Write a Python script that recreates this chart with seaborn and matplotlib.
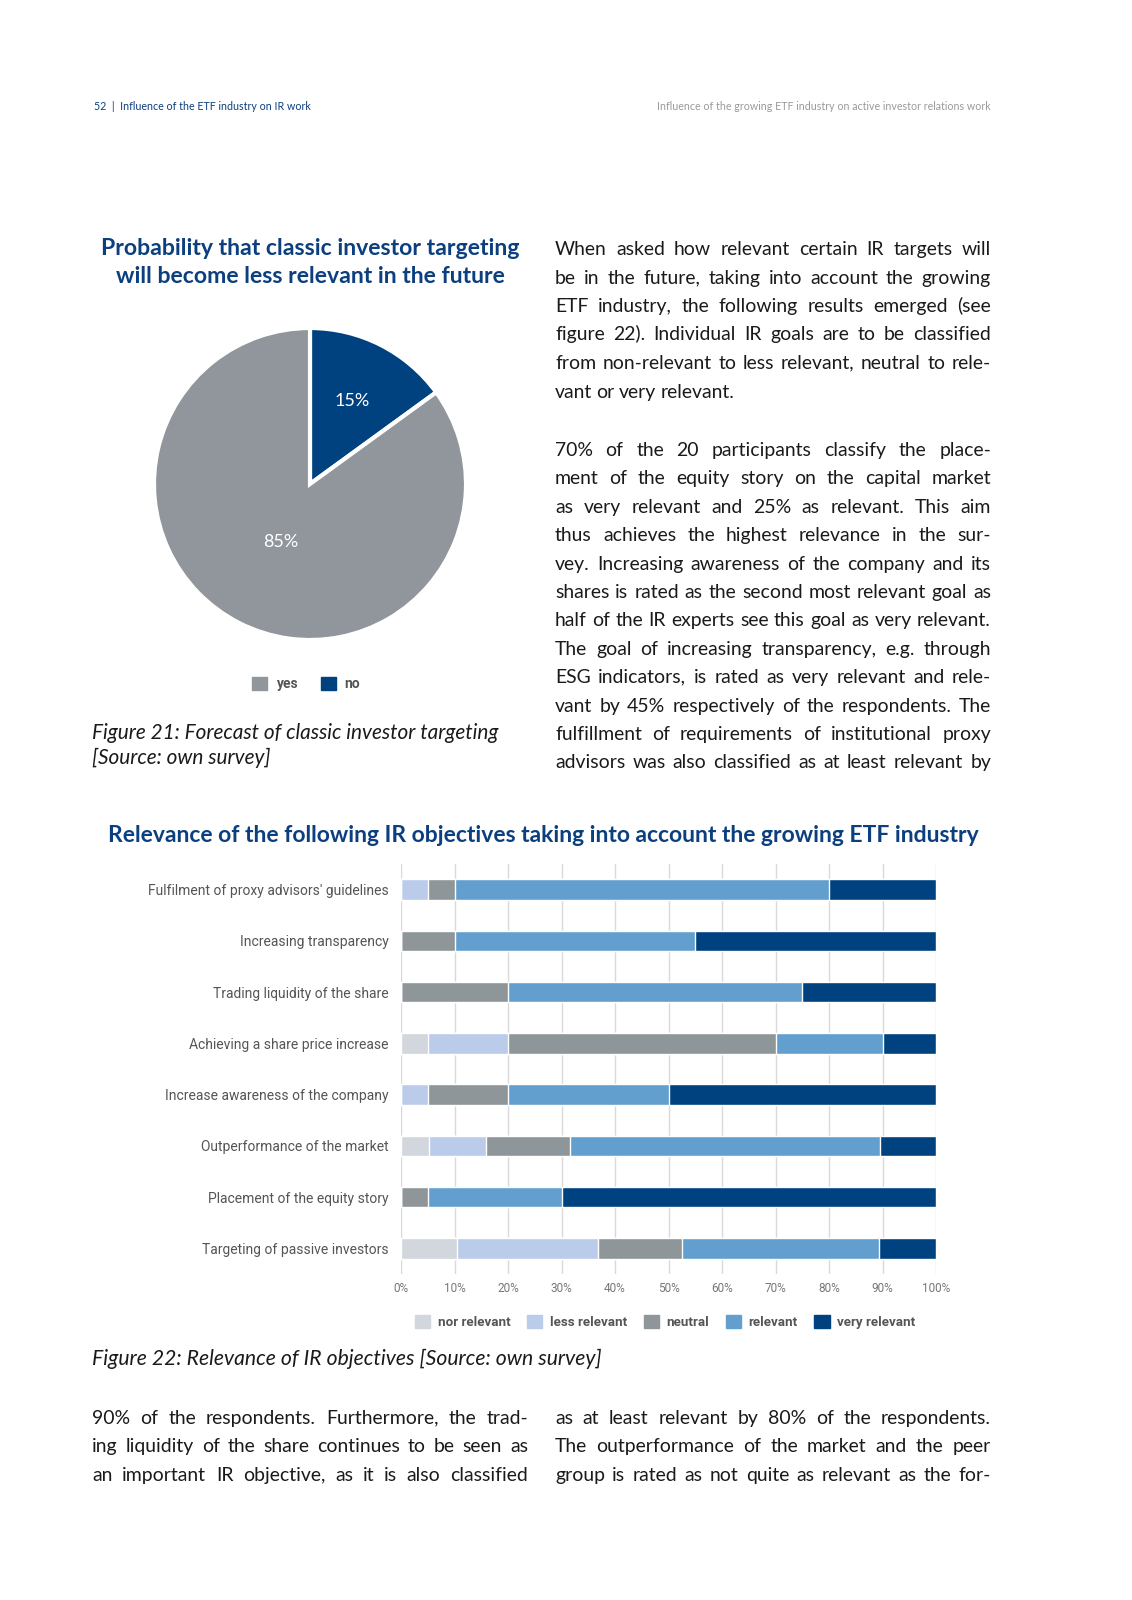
import matplotlib
matplotlib.use("Agg")
import numpy as np
import pandas as pd
import seaborn as sns
import matplotlib.pyplot as plt
from matplotlib.patches import Patch
from matplotlib.backends.backend_agg import get_hinting_flag

W, H = 1132, 1600

# pie chart data (figure 21)
pie_labels = ["no", "yes"]
pie_shares = [15, 85]

# stacked bar data (figure 22), share of respondents in %
objectives = [
    "Fulfilment of proxy advisors' guidelines",
    "Increasing transparency",
    "Trading liquidity of the share",
    "Achieving a share price increase",
    "Increase awareness of the company",
    "Outperformance of the market",
    "Placement of the equity story",
    "Targeting of passive investors",
]
levels = ["nor relevant", "less relevant", "neutral", "relevant", "very relevant"]
nor_relevant = [0, 0, 0, 5, 0, 5.3, 0, 10.5]
less_relevant = [5, 0, 0, 15, 5, 10.5, 0, 26.3]
neutral = [5, 10, 20, 50, 15, 15.8, 5, 15.8]
relevant = [70, 45, 55, 20, 30, 57.9, 25, 36.8]
very_relevant = [20, 45, 25, 10, 50, 10.5, 70, 10.6]
x_ticks = [0, 10, 20, 30, 40, 50, 60, 70, 80, 90, 100]
tick_labels = [f"{t}%" for t in x_ticks]

# page text
header_left = "52  |  Influence of the ETF industry on IR work"
header_right = "Influence of the growing ETF industry on active investor relations work"
pie_title = ["Probability that classic investor targeting",
             "will become less relevant in the future"]
caption21 = ["Figure 21: Forecast of classic investor targeting",
             "[Source: own survey]"]
bar_title = "Relevance of the following IR objectives taking into account the growing ETF industry"
caption22 = "Figure 22: Relevance of IR objectives [Source: own survey]"
para1 = [
    "When asked how relevant certain IR targets will",
    "be in the future, taking into account the growing",
    "ETF industry, the following results emerged (see",
    "figure 22). Individual IR goals are to be classified",
    "from non-relevant to less relevant, neutral to rele-",
    "vant or very relevant.",
]
para2 = [
    "70% of the 20 participants classify the place-",
    "ment of the equity story on the capital market",
    "as very relevant and 25% as relevant. This aim",
    "thus achieves the highest relevance in the sur-",
    "vey. Increasing awareness of the company and its",
    "shares is rated as the second most relevant goal as",
    "half of the IR experts see this goal as very relevant.",
    "The goal of increasing transparency, e.g. through",
    "ESG indicators, is rated as very relevant and rele-",
    "vant by 45% respectively of the respondents. The",
    "fulfillment of requirements of institutional proxy",
    "advisors was also classified as at least relevant by",
]
bottom_left = [
    "90% of the respondents. Furthermore, the trad-",
    "ing liquidity of the share continues to be seen as",
    "an important IR objective, as it is also classified",
]
bottom_right = [
    "as at least relevant by 80% of the respondents.",
    "The outperformance of the market and the peer",
    "group is rated as not quite as relevant as the for-",
]

BLUE = "#0b3f7f"
level_colors = ["#d2d6dd", "#baccea", "#8f9699", "#629fce", "#00427f"]
pie_colors = ["#00427f", "#90969b"]
NARROW = ["Liberation Sans Narrow", "Roboto", "DejaVu Sans"]

sns.set_theme(style="white")
plt.rcParams["font.family"] = ["Lato", "DejaVu Sans"]

fig = plt.figure(figsize=(W / 100, H / 100), dpi=100)
rend = fig.canvas.get_renderer()


def fx(x):
    return x / W


def fy(y):
    return 1 - y / H


def put(x, y, s, width=None, **kw):
    t = fig.text(fx(x), fy(y), s, va="baseline", **kw)
    if width:
        w = t.get_window_extent(rend).width
        t.set_fontsize(t.get_fontsize() * width / w)
    return t


def raster_shift(t):
    # Agg rounds each word bitmap on its own; work out how far off the baseline lands
    try:
        font = rend._prepare_font(t.get_fontproperties())
        font.set_text(t.get_text(), 0, flags=get_hinting_flag())
        d = font.get_descent() / 64
        h = font.get_width_height()[1] / 64
        return round(d) + np.floor(h - d) - np.floor(h)
    except Exception:
        return 0


def justify(lines, x0, x1, y0, dy, ragged_last=False, **kw):
    for i, line in enumerate(lines):
        y = round(y0 + i * dy)
        words = line.split()
        ts = [put(x0, y, w, **kw) for w in words]
        ws = [t.get_window_extent(rend).width for t in ts]
        if ragged_last and i == len(lines) - 1:
            gap = ts[0].get_window_extent(rend).height * 0.25
        else:
            gap = (x1 - x0 - sum(ws)) / (len(words) - 1)
        x = x0
        for t, w in zip(ts, ws):
            t.set_position((fx(x), fy(y - raster_shift(t))))
            x += w + gap


# body font size: largest size where the tightest line still fits the column
body_fs = 14
probe = fig.text(0, 0, "", fontsize=body_fs)
widest = 0
for line in para1 + para2 + bottom_left + bottom_right:
    probe.set_text(line)
    widest = max(widest, probe.get_window_extent(rend).width)
probe.remove()
body_fs = min(body_fs, body_fs * 434 / widest)
body = dict(fontsize=body_fs, color="#1a1a1a")

# header
put(94, 110, header_left, width=215, fontsize=8, color=BLUE)
put(991, 110, header_right, width=335, fontsize=8, color="#9a9a9a", ha="right")

# pie title
t = put(310, 255, pie_title[0], width=420, fontsize=16, fontweight="bold", color=BLUE, ha="center")
put(310, 283, pie_title[1], fontsize=t.get_fontsize(), fontweight="bold", color=BLUE, ha="center")

# pie chart
ax_pie = fig.add_axes([fx(154), fy(640), 312 / W, 312 / H])
wedges, _ = ax_pie.pie(pie_shares, colors=pie_colors, startangle=90, counterclock=False,
                       wedgeprops=dict(edgecolor="white", linewidth=3))
for wdg, share, rr in zip(wedges, pie_shares, [0.60, 0.42]):
    ang = np.deg2rad((wdg.theta1 + wdg.theta2) / 2)
    ax_pie.text(rr * np.cos(ang), rr * np.sin(ang), f"{share}%", color="white",
                fontsize=13, ha="center", va="center")
ax_pie.set_xlim(-1.0, 1.0)
ax_pie.set_ylim(-1.0, 1.0)
ax_pie.set_aspect("equal")
ax_pie.axis("off")

pie_handles = [Patch(color=pie_colors[1]), Patch(color=pie_colors[0])]
fig.legend(pie_handles, ["yes", "no"], ncol=2, loc="center", bbox_to_anchor=(fx(306), fy(684)),
           frameon=False, prop=dict(family=NARROW, weight="bold", size=10), labelcolor="#555555",
           handlelength=1.1, handleheight=1.1, handletextpad=0.6, columnspacing=1.7)

c = put(92, 739, caption21[0], width=409, fontsize=14, style="italic", color="#1a1a1a")
put(92, 764, caption21[1], fontsize=c.get_fontsize(), style="italic", color="#1a1a1a")

# right column text
justify(para1, 555, 991, 255, 28.5, ragged_last=True, **body)
justify(para2, 555, 991, 456, 28.4, **body)

# bar chart title
put(543, 842, bar_title, width=875, fontsize=16, fontweight="bold", color=BLUE, ha="center")

# stacked bars
df = pd.DataFrame({"objective": objectives, "nor relevant": nor_relevant,
                   "less relevant": less_relevant, "neutral": neutral,
                   "relevant": relevant, "very relevant": very_relevant})
cum = df[levels].cumsum(axis=1)

ax = fig.add_axes([fx(401), fy(1274), 535 / W, 410 / H])
for lev, col in reversed(list(zip(levels, level_colors))):
    sns.barplot(x=cum[lev], y=df["objective"], orient="h", color=col, saturation=1,
                width=0.4, ax=ax, zorder=2)
ax.set_xlim(0, 100)
ax.set_ylim(7.5, -0.5)
ax.set_xticks(x_ticks)
ax.set_xticklabels(tick_labels, family=NARROW, fontsize=8.5, color="#777777")
ax.set_yticks(range(len(objectives)))
ax.set_yticklabels(objectives, family=NARROW, fontsize=10, color="#555555")
ax.tick_params(axis="x", length=0, pad=6)
ax.tick_params(axis="y", length=0, pad=9)
ax.set_xlabel("")
ax.set_ylabel("")
ax.grid(axis="x", color="#d9d9d9", linewidth=1)
ax.grid(axis="y", visible=False)
ax.set_axisbelow(True)
for sp in ax.spines.values():
    sp.set_visible(False)

bar_handles = [Patch(color=col) for col in level_colors]
fig.legend(bar_handles, levels, ncol=5, loc="center", bbox_to_anchor=(fx(665), fy(1322)),
           frameon=False, prop=dict(family=NARROW, weight="bold", size=9.6), labelcolor="#555555",
           handlelength=1.15, handleheight=1.15, handletextpad=0.55, columnspacing=1.25)

put(92, 1365, caption22, width=510, fontsize=14, style="italic", color="#1a1a1a")

# bottom text columns
justify(bottom_left, 92, 528, 1424, 28.5, **body)
justify(bottom_right, 555, 991, 1424, 28.5, **body)

fig.savefig("out.png", dpi=100)
